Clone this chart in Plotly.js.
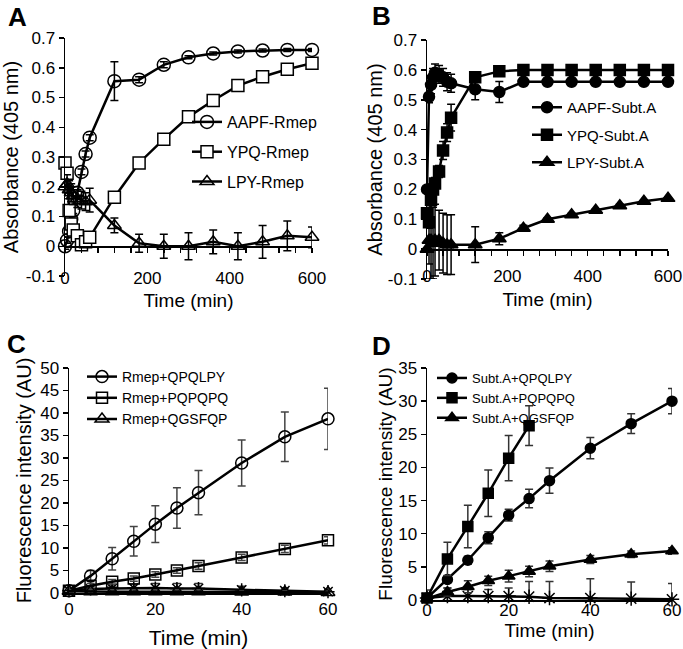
<!DOCTYPE html>
<html><head><meta charset="utf-8">
<script src="https://cdn.plot.ly/plotly-3.0.1.min.js"></script>
<style>html,body{margin:0;padding:0;background:#fff}#chart{width:683px;height:649px}</style>
</head><body><div id="chart"></div>
<script>
// ---------- data ----------
const timeAB = [0, 5, 10, 15, 20, 30, 40, 50, 60, 120, 180, 240, 300, 360, 420, 480, 540, 600];
const aAAPF = [0, 0.02, 0.05, 0.09, 0.12, 0.18, 0.25, 0.31, 0.365, 0.555, 0.56, 0.61, 0.635, 0.648, 0.655, 0.658, 0.66, 0.66];
const aAAPFErr = [0.01, 0.01, 0.01, 0.01, 0.01, 0.01, 0.01, 0.01, 0.01, 0.065, 0.01, 0.01, 0.005, 0.005, 0.005, 0.005, 0.005, 0.005];
const aYPQ = [0.28, 0.245, 0.12, 0.075, 0.055, 0.035, 0.005, 0.015, 0.03, 0.165, 0.28, 0.36, 0.435, 0.49, 0.54, 0.57, 0.595, 0.615];
const aYPQErr = [0.01, 0.01, 0.01, 0.01, 0.01, 0.01, 0.01, 0.01, 0.01, 0.005, 0.005, 0.005, 0.005, 0.005, 0.005, 0.005, 0.005, 0.005];
const aLPY = [0.2, 0.21, 0.19, 0.18, 0.17, 0.16, 0.155, 0.15, 0.155, 0.07, 0.01, 0.0, 0.0, 0.015, 0.0, 0.015, 0.035, 0.03];
const aLPYErr = [0.02, 0.03, 0.03, 0.03, 0.03, 0.03, 0.03, 0.03, 0.04, 0.025, 0.03, 0.04, 0.045, 0.04, 0.045, 0.055, 0.05, 0.035];

const bAAPF = [0.2, 0.51, 0.55, 0.575, 0.59, 0.585, 0.575, 0.56, 0.555, 0.535, 0.526, 0.56, 0.56, 0.56, 0.56, 0.56, 0.56, 0.56];
const bAAPFErr = [0.01, 0.02, 0.03, 0.03, 0.03, 0.03, 0.03, 0.03, 0.03, 0.035, 0.035, 0.005, 0.005, 0.005, 0.005, 0.005, 0.005, 0.005];
const bYPQ = [0.12, 0.09, 0.165, 0.2, 0.22, 0.26, 0.33, 0.39, 0.44, 0.575, 0.595, 0.6, 0.6, 0.6, 0.6, 0.6, 0.6, 0.6];
const bYPQErr = [0.01, 0.02, 0.02, 0.02, 0.02, 0.02, 0.03, 0.03, 0.045, 0.01, 0.01, 0.005, 0.005, 0.005, 0.005, 0.005, 0.005, 0.005];
const bLPY = [0.0, 0.03, 0.03, 0.02, 0.03, 0.03, 0.02, 0.015, 0.015, 0.015, 0.035, 0.07, 0.1, 0.115, 0.13, 0.145, 0.16, 0.17];
const bLPYErr = [0.01, 0.08, 0.13, 0.12, 0.12, 0.1, 0.1, 0.1, 0.1, 0.06, 0.02, 0.01, 0.005, 0.005, 0.005, 0.005, 0.005, 0.005];

const timeCD = [0, 5, 10, 15, 20, 25, 30, 40, 50, 60];
const cQPQLPY = [0.5, 3.8, 7.6, 11.5, 15.3, 18.9, 22.3, 28.9, 34.7, 38.7];
const cQPQLPYErr = [0.5, 1.2, 2.5, 3.3, 4.1, 4.5, 4.9, 5.1, 5.5, 6.8];
const cPQPQPQ = [0.5, 1.6, 2.5, 3.2, 4.1, 5.0, 6.0, 7.9, 9.8, 11.7];
const cPQPQPQErr = [0.3, 0.5, 0.5, 0.6, 0.6, 0.6, 0.7, 0.7, 0.8, 0.8];
const cQGSFQP = [0.4, 0.3, 0.3, 0.3, 0.3, 0.3, 0.3, 0.2, 0.2, 0.1];
const cQGSFQPErr = [0.3, 0.4, 0.4, 0.4, 0.4, 0.4, 0.4, 0.3, 0.3, 0.3];
const cControl = [0.5, 0.9, 1.0, 1.1, 1.1, 1.0, 1.0, 0.7, 0.5, 0.3];
const cControlErr = [0.4, 0.6, 0.8, 0.9, 1.0, 1.1, 1.1, 0.8, 0.6, 0.4];

const timeD2 = [0, 5, 10, 15, 20, 25];
const dQPQLPY = [0.3, 3.1, 6.0, 9.4, 12.8, 15.3, 18.0, 22.9, 26.6, 30.0];
const dQPQLPYErr = [0.3, 0.5, 0.6, 0.9, 0.9, 1.4, 1.9, 1.6, 1.5, 1.9];
const dPQPQPQ = [0.3, 6.2, 11.1, 16.1, 21.4, 26.3];
const dPQPQPQErr = [0.3, 2.5, 3.2, 3.5, 3.4, 3.0];
const dQGSFQP = [0.2, 1.2, 2.0, 2.9, 3.6, 4.3, 5.1, 6.1, 6.9, 7.4];
const dQGSFQPErr = [0.2, 0.6, 0.9, 0.7, 0.9, 0.8, 0.8, 0.6, 0.5, 0.5];
const dControl = [0.3, 0.6, 0.6, 0.6, 0.6, 0.5, 0.3, 0.3, 0.2, 0.1];
const dControlErr = [1.2, 1.2, 1.0, 1.0, 1.2, 2.3, 2.5, 2.9, 2.5, 2.4];

const xTickValsAB = [0, 200, 400, 600];
const xTickTextAB = ['0', '200', '400', '600'];
const yTickValsAB = [-0.1, 0, 0.1, 0.2, 0.3, 0.4, 0.5, 0.6, 0.7];
const yTickTextAB = ['-0.1', '0', '0.1', '0.2', '0.3', '0.4', '0.5', '0.6', '0.7'];
const xTickValsCD = [0, 20, 40, 60];
const yTickValsC = [0, 5, 10, 15, 20, 25, 30, 35, 40, 45, 50];
const yTickValsD = [0, 5, 10, 15, 20, 25, 30, 35];

// ---------- layout helpers ----------
const W = 683, H = 649;
const FONT = 'Arial, Liberation Sans, sans-serif';
const px = v => v / W;
const py = v => 1 - v / H;

function trace(x, y, err, name, sym, opt) {
  return Object.assign({
    type: 'scatter', mode: 'lines+markers', x: x, y: y, name: name,
    line: {color: '#000', width: 2.5},
    marker: {symbol: sym, size: opt.size || 12, color: opt.fill || '#000',
             line: {color: '#000', width: 1.5}},
    error_y: {type: 'data', array: err, visible: true, color: opt.ecolor || '#000',
              thickness: 1.5, width: 4},
    cliponaxis: false, legendgroup: name, hoverinfo: 'x+y'
  }, opt.extra);
}

const data = [
  trace(timeAB, aAAPF, aAAPFErr, 'AAPF-Rmep', 'circle-open', {size: 13, extra: {xaxis: 'x', yaxis: 'y', legend: 'legend'}}),
  trace(timeAB, aYPQ, aYPQErr, 'YPQ-Rmep', 'square', {size: 12, fill: '#fff', extra: {xaxis: 'x', yaxis: 'y', legend: 'legend'}}),
  trace(timeAB, aLPY, aLPYErr, 'LPY-Rmep', 'triangle-up-open', {size: 12, extra: {xaxis: 'x', yaxis: 'y', legend: 'legend'}}),

  trace(timeAB, bAAPF, bAAPFErr, 'AAPF-Subt.A', 'circle', {size: 11, extra: {xaxis: 'x2', yaxis: 'y2', legend: 'legend2'}}),
  trace(timeAB, bYPQ, bYPQErr, 'YPQ-Subt.A', 'square', {size: 11, extra: {xaxis: 'x2', yaxis: 'y2', legend: 'legend2'}}),
  trace(timeAB, bLPY, bLPYErr, 'LPY-Subt.A', 'triangle-up', {size: 12, extra: {xaxis: 'x2', yaxis: 'y2', legend: 'legend2'}}),

  trace(timeCD, cControl, cControlErr, 'control C', 'asterisk-open', {size: 11, ecolor: '#333', extra: {xaxis: 'x3', yaxis: 'y3', showlegend: false}}),
  trace(timeCD, cQPQLPY, cQPQLPYErr, 'Rmep+QPQLPY', 'circle-open', {size: 12, ecolor: '#444', extra: {xaxis: 'x3', yaxis: 'y3', legend: 'legend3'}}),
  trace(timeCD, cPQPQPQ, cPQPQPQErr, 'Rmep+PQPQPQ', 'square-open', {size: 11, ecolor: '#444', extra: {xaxis: 'x3', yaxis: 'y3', legend: 'legend3'}}),
  trace(timeCD, cQGSFQP, cQGSFQPErr, 'Rmep+QGSFQP', 'triangle-up-open', {size: 12, ecolor: '#444', extra: {xaxis: 'x3', yaxis: 'y3', legend: 'legend3'}}),

  trace(timeCD, dControl, dControlErr, 'control D', 'asterisk-open', {size: 12, ecolor: '#333', extra: {xaxis: 'x4', yaxis: 'y4', showlegend: false}}),
  trace(timeCD, dQPQLPY, dQPQLPYErr, 'Subt.A+QPQLPY', 'circle', {size: 10, ecolor: '#333', extra: {xaxis: 'x4', yaxis: 'y4', legend: 'legend4'}}),
  trace(timeD2, dPQPQPQ, dPQPQPQErr, 'Subt.A+PQPQPQ', 'square', {size: 10, ecolor: '#333', extra: {xaxis: 'x4', yaxis: 'y4', legend: 'legend4'}}),
  trace(timeCD, dQGSFQP, dQGSFQPErr, 'Subt.A+QGSFQP', 'triangle-up', {size: 11, ecolor: '#333', extra: {xaxis: 'x4', yaxis: 'y4', legend: 'legend4'}}),

  // empty traces that carry the zero-crossing tick axes of panels A and B
  {type: 'scatter', x: [], y: [], xaxis: 'x5', yaxis: 'y', showlegend: false, hoverinfo: 'skip'},
  {type: 'scatter', x: [], y: [], xaxis: 'x6', yaxis: 'y2', showlegend: false, hoverinfo: 'skip'}
];

const tickFont = {family: FONT, size: 17, color: '#000'};
const titleFont = size => ({family: FONT, size: size, color: '#000', weight: 400});
const domAx = [px(65), px(312)], domAy = [py(276), py(38)];
const domBx = [px(427), px(668)], domBy = [py(279), py(40)];
const domCx = [px(69), px(328)], domCy = [py(593), py(368)];
const domDx = [px(427), px(672)], domDy = [py(600), py(368)];
const zeroPos = (dom, lo, hi) => dom[0] + (0 - lo) / (hi - lo) * (dom[1] - dom[0]);

const baseY = {showline: true, linecolor: '#000', linewidth: 1.5, ticks: 'outside', ticklen: 5,
               tickwidth: 1.5, tickcolor: '#000', showgrid: false, zeroline: false, tickfont: tickFont};
const labelX = {showline: false, ticks: '', showgrid: false, zeroline: false, tickfont: tickFont,
                ticklabeloverflow: 'allow'};
const tickX = {showline: true, linecolor: '#000', linewidth: 1.5, ticks: 'outside', ticklen: 5,
               tickwidth: 1.5, tickcolor: '#000', tick0: 0, dtick: 40, showticklabels: false,
               showgrid: false, zeroline: false, anchor: 'free'};

function legendAt(x, top, size, gap) {
  return {x: px(x), y: py(top), xanchor: 'left', yanchor: 'top', bgcolor: 'rgba(0,0,0,0)',
          borderwidth: 0, font: {family: FONT, size: size, color: '#000'},
          traceorder: 'grouped', tracegroupgap: gap};
}

const layout = {
  width: W, height: H, margin: {l: 0, r: 0, t: 0, b: 0},
  paper_bgcolor: '#fff', plot_bgcolor: '#fff',
  font: {family: FONT, color: '#000'}, showlegend: true, hovermode: false,
  xaxis: Object.assign({}, labelX, {domain: domAx, range: [0, 600], anchor: 'free', position: py(266),
          tickvals: xTickValsAB, ticktext: xTickTextAB,
          title: {text: 'Time (min)', font: titleFont(19), standoff: 6}}),
  yaxis: Object.assign({}, baseY, {domain: domAy, range: [-0.1, 0.7], anchor: 'x',
          tickvals: yTickValsAB, ticktext: yTickTextAB,
          title: {text: 'Absorbance (405 nm)', font: titleFont(20), standoff: 4}}),
  xaxis5: Object.assign({}, tickX, {overlaying: 'x', domain: domAx, range: [0, 600],
          position: zeroPos(domAy, -0.1, 0.7)}),

  xaxis2: Object.assign({}, labelX, {domain: domBx, range: [0, 600], anchor: 'free', position: py(264),
          tickvals: xTickValsAB, ticktext: xTickTextAB,
          title: {text: 'Time (min)', font: titleFont(19), standoff: 7}}),
  yaxis2: Object.assign({}, baseY, {domain: domBy, range: [-0.1, 0.7], anchor: 'x2',
          tickvals: yTickValsAB, ticktext: yTickTextAB,
          title: {text: 'Absorbance (405 nm)', font: titleFont(20), standoff: 0}}),
  xaxis6: Object.assign({}, tickX, {overlaying: 'x2', domain: domBx, range: [0, 600],
          position: zeroPos(domBy, -0.1, 0.7)}),

  xaxis3: Object.assign({}, labelX, {domain: domCx, range: [0, 60], anchor: 'y3', showline: true,
          linecolor: '#000', linewidth: 1.5, tickvals: xTickValsCD,
          title: {text: 'Time (min)', font: titleFont(21), standoff: 16}}),
  yaxis3: Object.assign({}, baseY, {domain: domCy, range: [0, 50], anchor: 'x3', tickvals: yTickValsC,
          title: {text: 'Fluorescence intensity (AU)', font: titleFont(20), standoff: 3}}),

  xaxis4: Object.assign({}, labelX, {domain: domDx, range: [0, 60], anchor: 'y4', showline: true,
          linecolor: '#000', linewidth: 1.5, tickvals: xTickValsCD, ticklabelstandoff: -6,
          title: {text: 'Time (min)', font: titleFont(19), standoff: 0}}),
  yaxis4: Object.assign({}, baseY, {domain: domDy, range: [0, 35], anchor: 'x4', tickvals: yTickValsD,
          title: {text: 'Fluorescence intensity (AU)', font: titleFont(19), standoff: 0}}),

  legend: legendAt(187, 105, 16, 6),
  legend2: legendAt(527, 91, 15, 5),
  legend3: legendAt(82, 361, 14, 0),
  legend4: legendAt(432, 363, 13, 0),

  annotations: [
    ['A', 17, 17], ['B', 381, 16], ['C', 16, 344], ['D', 381, 346]
  ].map(([t, x, y]) => ({text: '<b>' + t + '</b>', x: px(x), y: py(y), xref: 'paper', yref: 'paper',
        xanchor: 'center', yanchor: 'middle', showarrow: false,
        font: {family: FONT, size: 26, color: '#000'}}))
};

Plotly.newPlot('chart', data, layout, {staticPlot: true, displayModeBar: false});
</script>
</body></html>
